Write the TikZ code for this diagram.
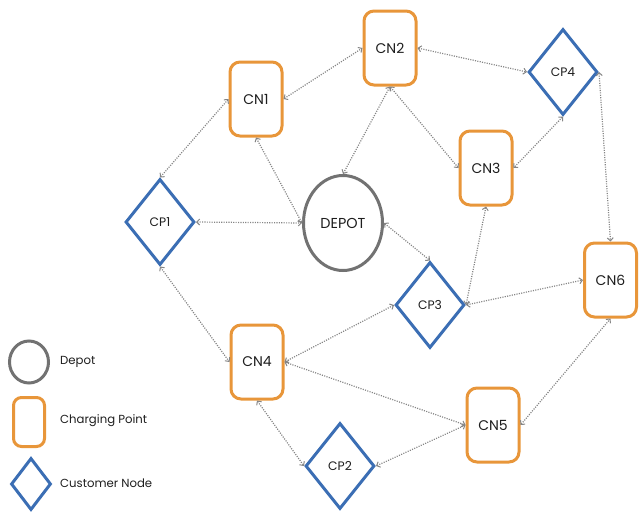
\documentclass[tikz,border=0pt]{standalone}
\usepackage{fontspec}
\setmainfont{Poppins}
\usetikzlibrary{shapes.geometric,arrows.meta}
\definecolor{cporange}{HTML}{E8963A}
\definecolor{cpblue}{HTML}{3B6EB4}
\definecolor{cpgray}{HTML}{727272}
\definecolor{lkgray}{HTML}{858585}
\definecolor{txt}{HTML}{1E1E1E}
\tikzset{
  chg/.style={draw=cporange, line width=3pt, rounded corners=10pt, fill=white,
    minimum width=52pt, minimum height=74pt, inner sep=0pt, text=txt, font=\fontsize{14}{16}\selectfont},
  cust/.style={diamond, draw=cpblue, line width=3pt, fill=white,
    minimum width=69pt, minimum height=86pt, inner sep=0pt, text=txt, font=\fontsize{12.3}{14}\selectfont},
  dep/.style={ellipse, draw=cpgray, line width=3pt, fill=white,
    minimum width=79pt, minimum height=95pt, inner sep=0pt, text=txt, font=\fontsize{14.4}{16}\selectfont},
  lnk/.style={draw=lkgray, line width=1.2pt, dash pattern=on 1.1pt off 1.3pt,
    {Straight Barb[length=3pt,width=6pt,line width=1pt]}-{Straight Barb[length=3pt,width=6pt,line width=1pt]}},
  legtxt/.style={anchor=west, text=txt, inner sep=0pt, font=\fontsize{11.7}{13}\selectfont}
}
\begin{document}
\begin{tikzpicture}[x=1pt,y=-1pt]
\useasboundingbox (0,0) rectangle (639,514);
\node[chg] (CN2) at (390,48) {CN2};
\node[chg] (CN1) at (256,99) {CN1};
\node[cust] (CP4) at (563,72) {CP4};
\node[chg] (CN3) at (486,168) {CN3};
\node[cust] (CP1) at (160,222) {CP1};
\node[dep] (DEP) at (343,223) {DEPOT};
\node[cust] (CP3) at (430,305) {CP3};
\node[chg] (CN6) at (610.5,280) {CN6};
\node[chg] (CN4) at (257,362) {CN4};
\node[chg] (CN5) at (493,425) {CN5};
\node[cust] (CP2) at (340,466) {CP2};
% legend
\node[dep, minimum width=39pt, minimum height=42pt] (LD) at (29,362) {};
\node[chg, minimum width=31pt, minimum height=49pt, rounded corners=8pt] (LC) at (29,422) {};
\node[cust, minimum width=40pt, minimum height=52pt] (LP) at (31,484) {};
\node[legtxt] (TD) at (60,362) {Depot};
\node[legtxt] (TC) at (60,421) {Charging Point};
\node[legtxt] (TP) at (60,483) {Customer Node};
% connectors
\draw[lnk] (CP1.north) -- (CN1.west);
\draw[lnk] (CN1.east) -- (CN2.west);
\draw[lnk] (CN1.south) -- (DEP.west);
\draw[lnk] (CP1.east) -- (DEP.west);
\draw[lnk] (CP1.south) -- (CN4.west);
\draw[lnk] (CN2.south) -- (DEP.north);
\draw[lnk] (CN2.south) -- (CN3.west);
\draw[lnk] (CN2.east) -- (CP4.west);
\draw[lnk] (CP4.south) -- (CN3.east);
\draw[lnk] (CP4.east) -- (CN6.north);
\draw[lnk] (DEP.east) -- (CP3.north);
\draw[lnk] (CN3.south) -- (CP3.east);
\draw[lnk] (CP3.east) -- (CN6.west);
\draw[lnk] (CN4.east) -- (CP3.west);
\draw[lnk] (CN4.east) -- (CN5.west);
\draw[lnk] (CN4.south) -- (CP2.west);
\draw[lnk] (CP2.east) -- (CN5.west);
\draw[lnk] (CN5.east) -- (CN6.south);
\end{tikzpicture}
\end{document}
